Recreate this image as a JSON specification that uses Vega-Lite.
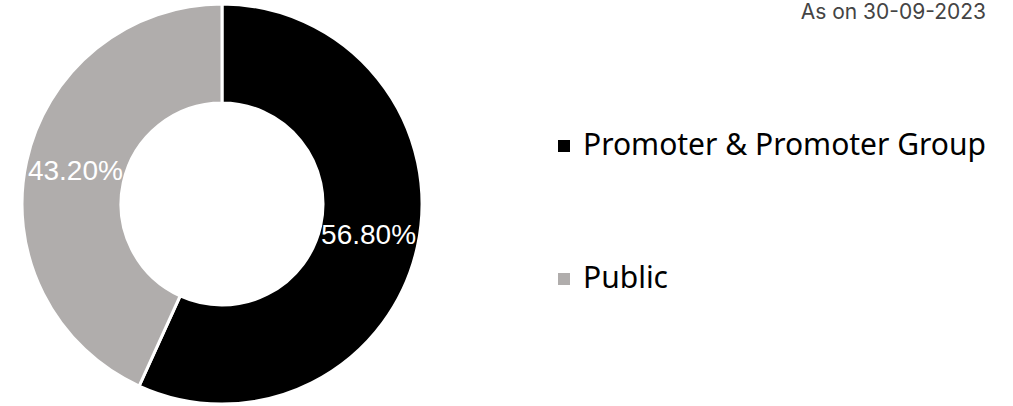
{
  "$schema": "https://vega.github.io/schema/vega-lite/v6.json",
  "width": 400,
  "height": 400,
  "autosize": {"type": "none"},
  "padding": {"left": 22, "top": 4, "right": 591, "bottom": 2},
  "background": "white",
  "data": {
    "values": [
      {"category": "Promoter & Promoter Group", "value": 56.8, "label": "56.80%"},
      {"category": "Public", "value": 43.2, "label": "43.20%"}
    ]
  },
  "encoding": {
    "theta": {"field": "value", "type": "quantitative", "stack": true},
    "order": {"field": "category", "type": "ordinal", "sort": "ascending"}
  },
  "layer": [
    {
      "mark": {"type": "arc", "outerRadius": 200, "innerRadius": 101, "stroke": "white", "strokeWidth": 3},
      "encoding": {
        "color": {
          "field": "category",
          "type": "nominal",
          "scale": {"domain": ["Promoter & Promoter Group", "Public"], "range": ["#000000", "#b0adac"]},
          "legend": {
            "title": "As on 30-09-2023",
            "titleAnchor": "end",
            "titleAlign": "right",
            "titleBaseline": "top",
            "titleFont": "Inter",
            "titleFontSize": 21,
            "titleFontWeight": "normal",
            "titleColor": "#444444",
            "titlePadding": 108,
            "titleLimit": 400,
            "orient": "none",
            "legendX": 527,
            "legendY": -2,
            "symbolType": "square",
            "symbolSize": 144,
            "symbolStrokeWidth": 0,
            "labelFont": "Noto Sans",
            "labelFontSize": 30,
            "labelColor": "#000000",
            "labelOffset": 4,
            "rowPadding": 103,
            "labelLimit": 600
          }
        }
      }
    },
    {
      "mark": {"type": "text", "radius": 150, "fill": "white", "fontSize": 28, "font": "Liberation Sans"},
      "encoding": {
        "text": {"field": "label", "type": "nominal"},
        "detail": {"field": "category", "type": "nominal"}
      }
    }
  ]
}
